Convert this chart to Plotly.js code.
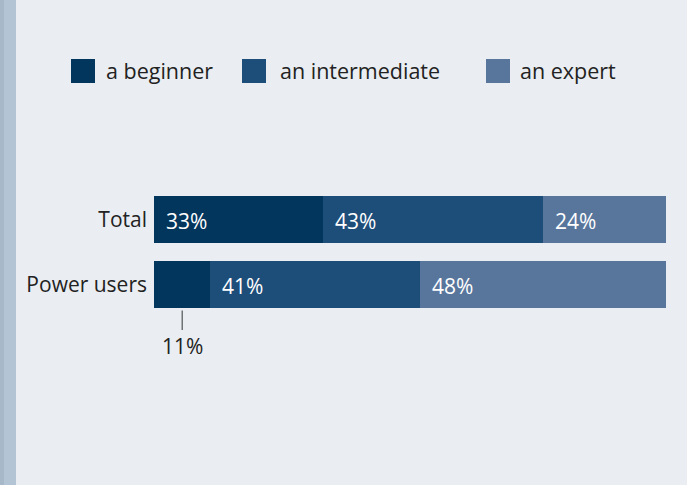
<!DOCTYPE html>
<html>
<head>
<meta charset="utf-8">
<script src="https://cdn.plot.ly/plotly-3.0.1.min.js"></script>
<style>
html,body{margin:0;padding:0;background:#eaeef2;}
#chart{width:687px;height:485px;}
</style>
</head>
<body>
<div id="chart"></div>
<script>
const categories = ["Total", "Power users"];
const seriesNames = ["a beginner", "an intermediate", "an expert"];
const beginner = [33, 11];
const intermediate = [43, 41];
const expert = [24, 48];
const colors = ["#02365c", "#1d4d79", "#58769c"];

const series = [beginner, intermediate, expert];
const W = 687, H = 485;
const M = {l: 154, r: 21, t: 187, b: 168};
const PW = W - M.l - M.r, PH = H - M.t - M.b;
const px = x => (x - M.l) / PW;
const py = y => (H - M.b - y) / PH;
const FONT = "Open Sans, Noto Sans, sans-serif";

const traces = series.map((vals, i) => ({
  type: "bar",
  orientation: "h",
  name: seriesNames[i],
  y: categories,
  x: vals,
  marker: {color: colors[i], line: {width: 0}},
  hoverinfo: "skip",
  showlegend: false
}));

const annotations = [];
const barWidth = 0.708;
categories.forEach((cat, ci) => {
  let start = 0;
  series.forEach((vals, si) => {
    const v = vals[ci];
    if (v >= 15) {
      annotations.push({
        x: start, y: ci, xref: "x", yref: "y",
        text: v + "%", showarrow: false,
        xanchor: "left", xshift: 10, yshift: -1,
        font: {family: FONT, size: 21, color: "#ffffff"}
      });
    } else {
      annotations.push({
        x: start + v / 2, y: ci + barWidth / 2, xref: "x", yref: "y",
        text: v + "%", showarrow: true, arrowhead: 0, arrowwidth: 1,
        arrowcolor: "#333333", ax: 0, ay: 38, standoff: 3,
        font: {family: FONT, size: 21, color: "#222222"}
      });
    }
    start += v;
  });
});

// custom legend
const legendSquares = [71, 242, 486];
const legendTexts = [104, 278, 518];
const shapes = [
  {type: "rect", xref: "paper", yref: "paper", x0: px(0), x1: px(16), y0: py(H), y1: py(0),
   fillcolor: "#b3c5d5", line: {width: 0}, layer: "below"},
  {type: "rect", xref: "paper", yref: "paper", x0: px(0), x1: px(4), y0: py(H), y1: py(0),
   fillcolor: "#a7b9c9", line: {width: 0}, layer: "below"}
];
seriesNames.forEach((n, i) => {
  shapes.push({type: "rect", xref: "paper", yref: "paper",
    x0: px(legendSquares[i]), x1: px(legendSquares[i] + 24),
    y0: py(83), y1: py(59), fillcolor: colors[i], line: {width: 0}});
  annotations.push({xref: "paper", yref: "paper", x: px(legendTexts[i]), y: py(70),
    xanchor: "left", yanchor: "middle", showarrow: false, text: n,
    font: {family: FONT, size: 21.5, color: "#222222"}});
});

const layout = {
  width: W, height: H,
  margin: M,
  paper_bgcolor: "#eaeef2",
  plot_bgcolor: "rgba(0,0,0,0)",
  barmode: "stack",
  bargap: 1 - barWidth,
  showlegend: false,
  xaxis: {range: [0, 100], visible: false, fixedrange: true},
  yaxis: {autorange: "reversed", showgrid: false, zeroline: false, showline: false,
    ticks: "", ticklabelstandoff: 6,
    tickfont: {family: FONT, size: 21, color: "#222222"}},
  shapes: shapes,
  annotations: annotations
};

Plotly.newPlot("chart", traces, layout, {displayModeBar: false, staticPlot: true});
</script>
</body>
</html>
